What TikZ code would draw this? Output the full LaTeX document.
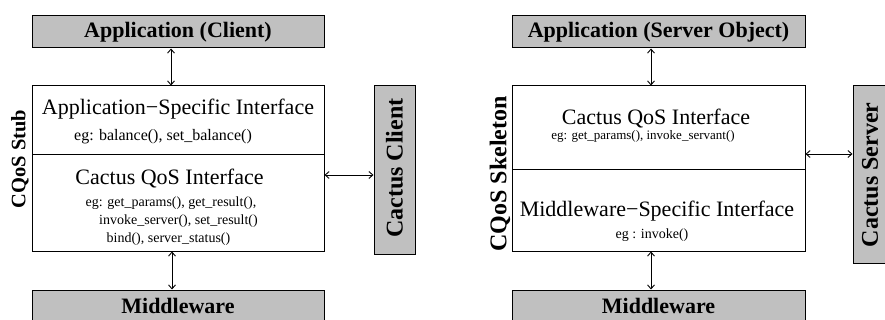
\documentclass[tikz,border=0pt]{standalone}
\usepackage{fontspec}
\setmainfont{Liberation Serif}
\usepackage{xcolor}
\usetikzlibrary{arrows.meta}

\definecolor{boxgray}{RGB}{192,192,192}
\newcommand{\bigtxt}{\fontsize{22}{24}\selectfont}
\newcommand{\smalltxt}{\fontsize{14}{16}\selectfont}

\tikzset{
  layer/.style={draw, line width=1pt, inner sep=0pt},
  hdr/.style={layer, fill=boxgray, font=\bfseries\bigtxt, minimum height=32pt},
  side/.style={layer, fill=boxgray},
  sidelbl/.style={rotate=90, font=\bfseries\fontsize{24}{26}\selectfont},
  biarr/.style={line width=0.9pt, {Straight Barb[length=4pt,width=7pt]}-{Straight Barb[length=4pt,width=7pt]}},
}

\begin{document}
\begin{tikzpicture}[x=1pt, y=-1pt]
\useasboundingbox (0,0) rectangle (885,320);
\clip (0,0) rectangle (885,320);

% client side
\node[hdr, minimum width=292pt] (appC) at (178,32) {Application (Client)};
\node[layer, minimum width=292pt, minimum height=69pt] (stubTop) at (178,120.5) {};
\node[layer, minimum width=292pt, minimum height=96pt] (stubBot) at (178,203) {};
\node[hdr, minimum width=292pt] (mwC) at (178,306) {Middleware};
\node[side, minimum width=41pt, minimum height=168pt] (cc) at (394.5,170) {};
\node[sidelbl] (ccLbl) at (394.5,168) {Cactus Client};
\node[rotate=90, font=\bfseries\fontsize{20.5}{22}\selectfont] (stubLbl) at (20,159) {CQoS Stub};

\node[anchor=base, font=\bigtxt] (asi) at (178,115) {Application−Specific Interface};
\node[anchor=base, font=\fontsize{16}{18}\selectfont] (asiEg) at (163,141) {eg: balance(), set\_balance()};
\node[anchor=base, font=\bigtxt] (cqiC) at (169.5,185) {Cactus QoS Interface};
\node[anchor=base, font=\smalltxt] (cqiC1) at (171,207) {eg: get\_params(), get\_result(),};
\node[anchor=base, font=\smalltxt] (cqiC2) at (178.5,225) {invoke\_server(), set\_result()};
\node[anchor=base, font=\smalltxt] (cqiC3) at (168.5,243) {bind(), server\_status()};

\draw[biarr] ([xshift=-7pt]appC.south) -- ([xshift=-7pt]stubTop.north);
\draw[biarr] ([xshift=-6pt]stubBot.south) -- ([xshift=-6pt]mwC.north);
\draw[biarr] ([yshift=-5pt]cc.west -| stubBot.east) -- ([yshift=-5pt]cc.west);

% server side
\node[hdr, minimum width=293pt] (appS) at (658.5,32) {Application (Server Object)};
\node[layer, minimum width=293pt, minimum height=84pt] (skTop) at (658.5,128) {};
\node[layer, minimum width=293pt, minimum height=81pt] (skBot) at (658.5,210.5) {};
\node[hdr, minimum width=293pt] (mwS) at (658.5,306) {Middleware};
\node[side, minimum width=34pt, minimum height=177pt] (cs) at (870,174.5) {};
\node[sidelbl] (csLbl) at (870,175) {Cactus Server};
\node[rotate=90, font=\bfseries\fontsize{24}{26}\selectfont] (skLbl) at (500,174) {CQoS Skeleton};

\node[anchor=base, font=\bigtxt] (cqiS) at (656,125) {Cactus QoS Interface};
\node[anchor=base, font=\fontsize{13}{15}\selectfont] (cqiS1) at (643,140) {eg: get\_params(), invoke\_servant()};
\node[anchor=base, font=\bigtxt] (msi) at (657,217) {Middleware−Specific Interface};
\node[anchor=base, font=\smalltxt] (msiEg) at (652,238) {eg : invoke()};

\draw[biarr] ([xshift=-7.5pt]appS.south) -- ([xshift=-7.5pt]skTop.north);
\draw[biarr] ([xshift=-7.5pt]skBot.south) -- ([xshift=-7.5pt]mwS.north);
\draw[biarr] ([yshift=20.5pt]cs.west -| skTop.east) -- ([yshift=20.5pt]cs.west);
\end{tikzpicture}
\end{document}
